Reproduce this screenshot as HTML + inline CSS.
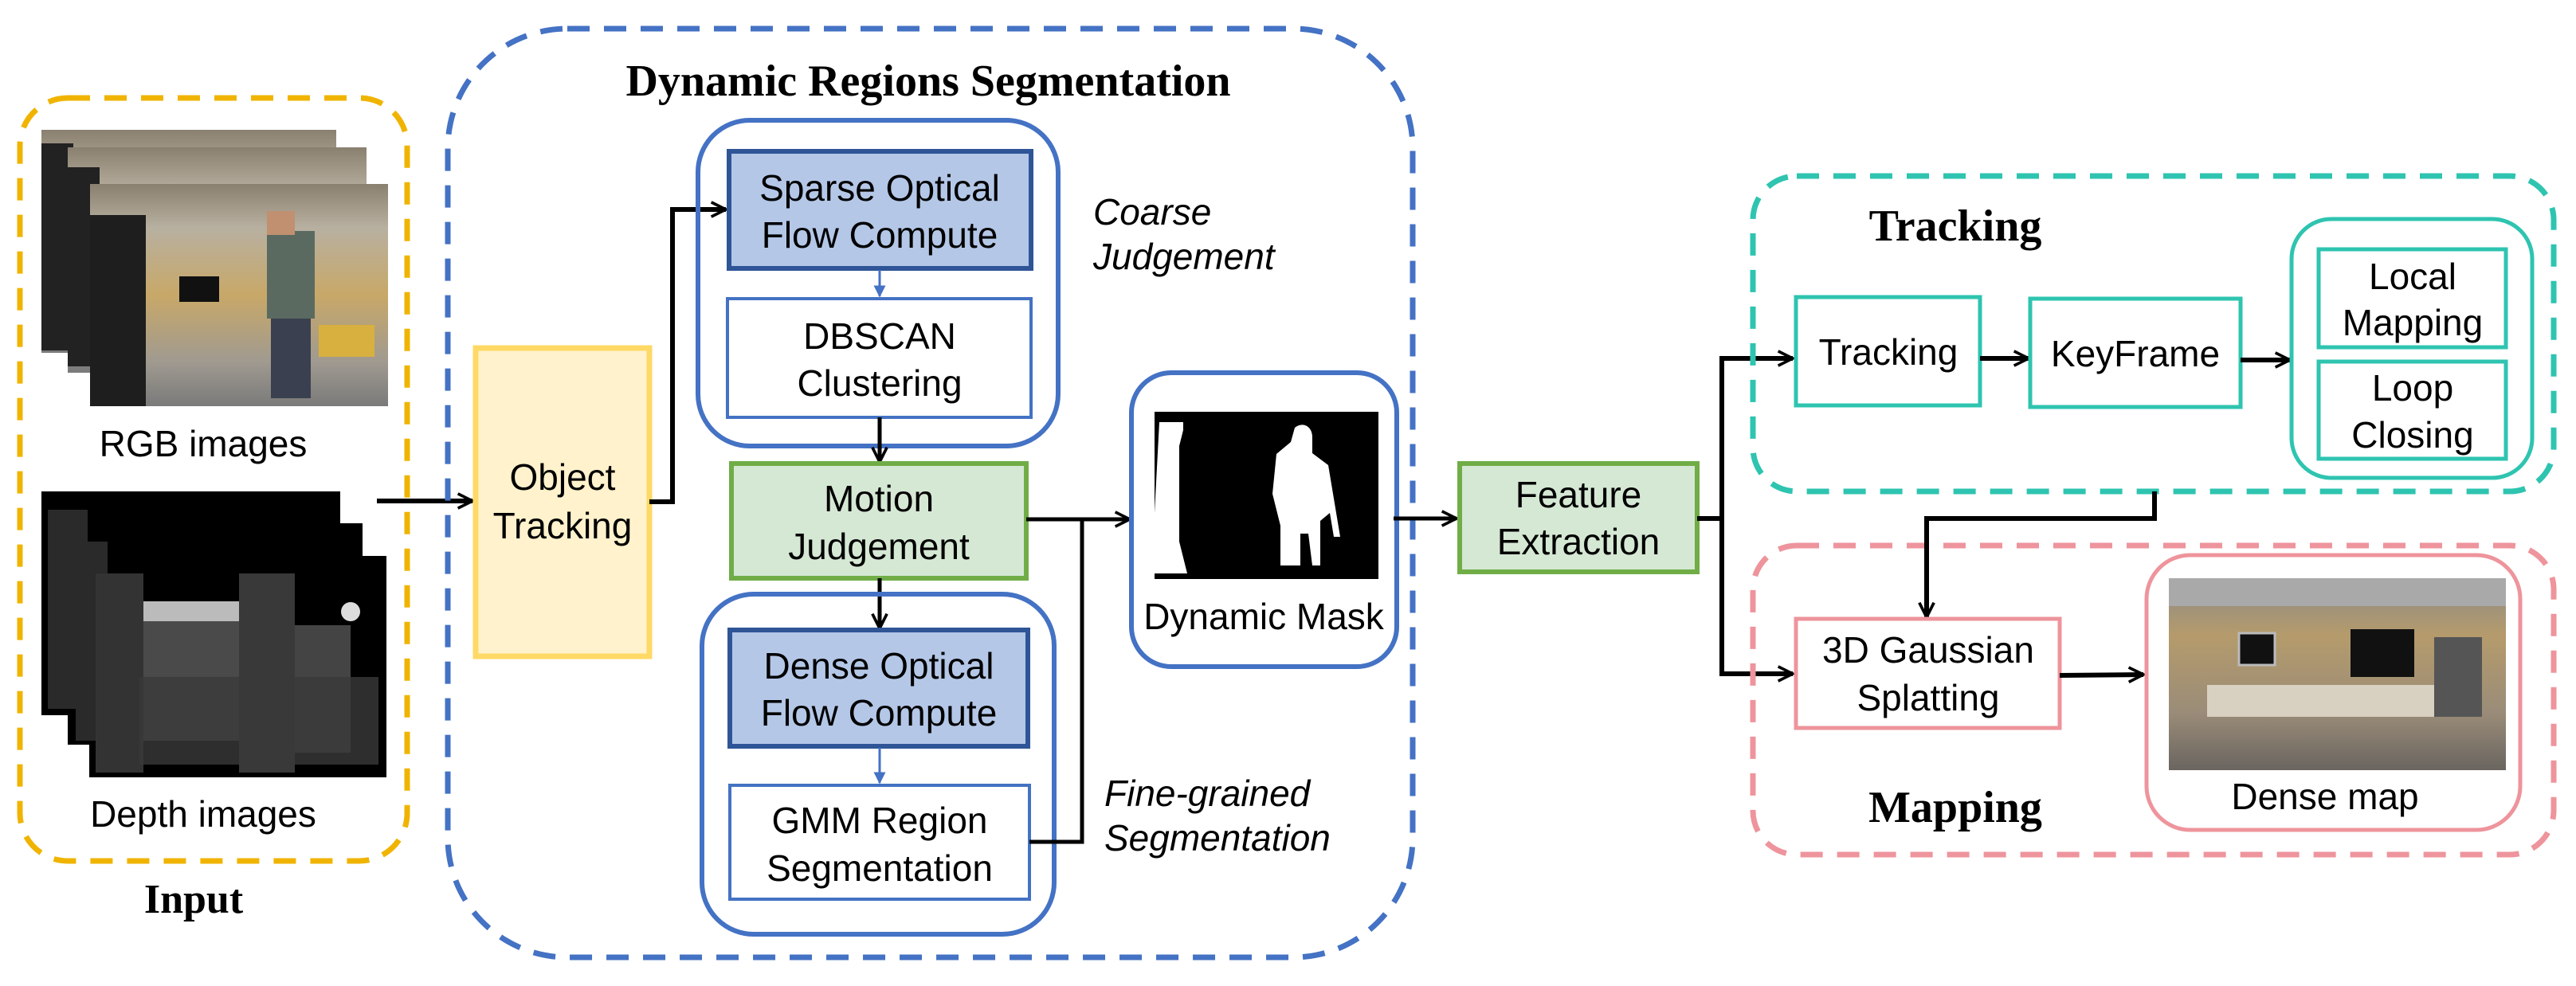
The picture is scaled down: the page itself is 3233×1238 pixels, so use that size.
<!DOCTYPE html>
<html><head><meta charset="utf-8"><style>
html,body{margin:0;padding:0;background:#fff}
svg{display:block}
text{font-family:"Liberation Sans",Arial,sans-serif;font-size:46px;fill:#000}
.t{font-family:"Liberation Serif",serif;font-weight:bold;font-size:56px}
.i{font-style:italic}
</style></head><body>
<svg width="3233" height="1238" viewBox="0 0 3233 1238" xmlns="http://www.w3.org/2000/svg">
<defs>
<marker id="a" viewBox="0 0 12 12" refX="11" refY="6" markerWidth="22" markerHeight="26" markerUnits="userSpaceOnUse" orient="auto"><path d="M1,1 L11,6 L1,11" fill="none" stroke="#000" stroke-width="2"/></marker>
<marker id="ab" viewBox="0 0 10 10" refX="9" refY="5" markerWidth="5" markerHeight="5" orient="auto"><path d="M0,0 L10,5 L0,10z" fill="#4472c4"/></marker>
<linearGradient id="rgb" x1="0" y1="0" x2="0" y2="1"><stop offset="0" stop-color="#8a8070"/><stop offset="0.2" stop-color="#b8b0a0"/><stop offset="0.5" stop-color="#c8a868"/><stop offset="0.8" stop-color="#a09a90"/><stop offset="1" stop-color="#7a7a7a"/></linearGradient>
<linearGradient id="dm" x1="0" y1="0" x2="0" y2="1"><stop offset="0" stop-color="#8c8a86"/><stop offset="0.3" stop-color="#b59b6c"/><stop offset="0.7" stop-color="#9a8c78"/><stop offset="1" stop-color="#6a6560"/></linearGradient>
</defs>

<!-- Input -->
<rect x="25" y="123" width="486" height="958" rx="60" fill="none" stroke="#f0b400" stroke-width="7" stroke-dasharray="28,18"/>
<g>
<rect x="52" y="163" width="370" height="280" fill="url(#rgb)"/>
<rect x="52" y="180" width="40" height="260" fill="#222"/>
<rect x="85" y="185" width="375" height="283" fill="url(#rgb)"/>
<rect x="85" y="210" width="40" height="250" fill="#222"/>
<rect x="113" y="231" width="374" height="279" fill="url(#rgb)"/>
<rect x="113" y="270" width="70" height="240" fill="#1e1e1e"/>
<rect x="335" y="290" width="60" height="110" fill="#5a6a60"/>
<rect x="340" y="400" width="50" height="100" fill="#3a4050"/>
<rect x="335" y="265" width="35" height="30" fill="#c09070"/>
<rect x="225" y="347" width="50" height="32" fill="#111"/>
<rect x="400" y="408" width="70" height="40" fill="#d8b040"/>
</g>
<text x="255" y="573" text-anchor="middle">RGB images</text>
<g>
<rect x="52" y="617" width="375" height="281" fill="#000"/>
<rect x="85" y="657" width="370" height="278" fill="#000"/>
<rect x="112" y="698" width="373" height="278" fill="#000"/>
<rect x="60" y="640" width="50" height="250" fill="#2a2a2a"/>
<rect x="95" y="680" width="40" height="250" fill="#2a2a2a"/>
<rect x="165" y="755" width="160" height="30" fill="#bbb"/>
<rect x="172" y="780" width="150" height="150" fill="#4a4a4a"/>
<rect x="120" y="720" width="60" height="250" fill="#333"/>
<rect x="300" y="720" width="70" height="250" fill="#393939"/>
<rect x="370" y="785" width="70" height="160" fill="#444"/>
<rect x="175" y="850" width="300" height="110" fill="#3a3a3a" opacity="0.8"/>
<circle cx="440" cy="768" r="12" fill="#ddd"/>
</g>
<text x="255" y="1038" text-anchor="middle">Depth images</text>
<text class="t" x="243" y="1146" text-anchor="middle" style="font-size:52px">Input</text>

<line x1="473" y1="629" x2="593" y2="629" stroke="#000" stroke-width="6" marker-end="url(#a)"/>

<!-- DRS -->
<rect x="562" y="36" width="1211" height="1166" rx="150" fill="none" stroke="#4472c4" stroke-width="7" stroke-dasharray="28,18"/>
<text class="t" x="1165" y="120" text-anchor="middle">Dynamic Regions Segmentation</text>

<rect x="597" y="437" width="218" height="387" fill="#fff2cc" stroke="#ffd966" stroke-width="7"/>
<text x="706" y="615" text-anchor="middle">Object</text>
<text x="706" y="676" text-anchor="middle">Tracking</text>
<polyline points="815,630 844,630 844,263 911,263" fill="none" stroke="#000" stroke-width="6" marker-end="url(#a)"/>

<rect x="876" y="151" width="452" height="409" rx="65" fill="none" stroke="#4472c4" stroke-width="6"/>
<rect x="915" y="190" width="379" height="147" fill="#b4c7e7" stroke="#2f5597" stroke-width="6"/>
<text x="1104" y="252" text-anchor="middle">Sparse Optical</text>
<text x="1104" y="311" text-anchor="middle">Flow Compute</text>
<line x1="1104" y1="339" x2="1104" y2="372" stroke="#4472c4" stroke-width="3" marker-end="url(#ab)"/>
<rect x="913" y="375" width="381" height="149" fill="#fff" stroke="#4472c4" stroke-width="4"/>
<text x="1104" y="438" text-anchor="middle">DBSCAN</text>
<text x="1104" y="497" text-anchor="middle">Clustering</text>
<text class="i" x="1372" y="282">Coarse</text>
<text class="i" x="1372" y="338">Judgement</text>
<line x1="1104" y1="524" x2="1104" y2="580" stroke="#000" stroke-width="5" marker-end="url(#a)"/>
<rect x="918" y="582" width="370" height="144" fill="#d5e8d4" stroke="#70ad47" stroke-width="6"/>
<text x="1103" y="642" text-anchor="middle">Motion</text>
<text x="1103" y="702" text-anchor="middle">Judgement</text>
<line x1="1104" y1="726" x2="1104" y2="789" stroke="#000" stroke-width="5" marker-end="url(#a)"/>
<rect x="881" y="746" width="442" height="427" rx="65" fill="none" stroke="#4472c4" stroke-width="6"/>
<rect x="916" y="791" width="374" height="146" fill="#b4c7e7" stroke="#2f5597" stroke-width="6"/>
<text x="1103" y="852" text-anchor="middle">Dense Optical</text>
<text x="1103" y="911" text-anchor="middle">Flow Compute</text>
<line x1="1104" y1="939" x2="1104" y2="983" stroke="#4472c4" stroke-width="3" marker-end="url(#ab)"/>
<rect x="916" y="986" width="376" height="143" fill="#fff" stroke="#4472c4" stroke-width="4"/>
<text x="1104" y="1046" text-anchor="middle">GMM Region</text>
<text x="1104" y="1106" text-anchor="middle">Segmentation</text>
<text class="i" x="1386" y="1012">Fine-grained</text>
<text class="i" x="1386" y="1068">Segmentation</text>
<polyline points="1288,652 1418,652" fill="none" stroke="#000" stroke-width="5" marker-end="url(#a)"/>
<polyline points="1292,1057 1358,1057 1358,652" fill="none" stroke="#000" stroke-width="5"/>

<rect x="1420" y="468" width="333" height="369" rx="50" fill="#fff" stroke="#4472c4" stroke-width="6"/>
<rect x="1449" y="517" width="281" height="210" fill="#000"/>
<path d="M1455,530 h30 v10 l-5,20 v120 l10,40 h-45 z" fill="#fff"/>
<path d="M1625,537 c10,-8 22,-2 22,12 v20 l20,15 l15,90 h-8 l-5,-30 l-12,10 v56 h-10 l-5,-40 h-10 v40 h-25 v-50 l-10,-40 l5,-50 l18,-15 z" fill="#fff"/>
<text x="1586" y="790" text-anchor="middle">Dynamic Mask</text>

<line x1="1749" y1="651" x2="1828" y2="651" stroke="#000" stroke-width="5" marker-end="url(#a)"/>
<rect x="1832" y="582" width="298" height="136" fill="#d5e8d4" stroke="#70ad47" stroke-width="6"/>
<text x="1981" y="637" text-anchor="middle">Feature</text>
<text x="1981" y="696" text-anchor="middle">Extraction</text>
<polyline points="2130,651 2161,651" fill="none" stroke="#000" stroke-width="6"/>
<polyline points="2161,651 2161,450 2250,450" fill="none" stroke="#000" stroke-width="6" marker-end="url(#a)"/>
<polyline points="2161,651 2161,846 2250,846" fill="none" stroke="#000" stroke-width="6" marker-end="url(#a)"/>

<rect x="2200" y="221" width="1005" height="396" rx="55" fill="none" stroke="#2ec4b0" stroke-width="7" stroke-dasharray="28,18"/>
<text class="t" x="2454" y="302" text-anchor="middle">Tracking</text>
<rect x="2254" y="373" width="231" height="136" fill="#fff" stroke="#2ec4b0" stroke-width="5"/>
<text x="2370" y="458" text-anchor="middle">Tracking</text>
<line x1="2485" y1="450" x2="2546" y2="450" stroke="#000" stroke-width="6" marker-end="url(#a)"/>
<rect x="2548" y="375" width="264" height="136" fill="#fff" stroke="#2ec4b0" stroke-width="5"/>
<text x="2680" y="460" text-anchor="middle">KeyFrame</text>
<line x1="2812" y1="452" x2="2874" y2="452" stroke="#000" stroke-width="6" marker-end="url(#a)"/>
<rect x="2876" y="275" width="302" height="325" rx="50" fill="#fff" stroke="#2ec4b0" stroke-width="5"/>
<rect x="2910" y="313" width="235" height="123" fill="#fff" stroke="#2ec4b0" stroke-width="5"/>
<text x="3028" y="363" text-anchor="middle">Local</text>
<text x="3028" y="421" text-anchor="middle">Mapping</text>
<rect x="2910" y="454" width="235" height="122" fill="#fff" stroke="#2ec4b0" stroke-width="5"/>
<text x="3028" y="503" text-anchor="middle">Loop</text>
<text x="3028" y="562" text-anchor="middle">Closing</text>

<rect x="2200" y="685" width="1005" height="388" rx="55" fill="none" stroke="#ee949c" stroke-width="7" stroke-dasharray="28,18"/>
<text class="t" x="2454" y="1032" text-anchor="middle">Mapping</text>
<polyline points="2704,617 2704,651 2418,651 2418,775" fill="none" stroke="#000" stroke-width="6" marker-end="url(#a)"/>
<rect x="2254" y="777" width="331" height="137" fill="#fff" stroke="#ee949c" stroke-width="5"/>
<text x="2420" y="832" text-anchor="middle">3D Gaussian</text>
<text x="2420" y="892" text-anchor="middle">Splatting</text>
<line x1="2585" y1="848" x2="2690" y2="847" stroke="#000" stroke-width="6" marker-end="url(#a)"/>
<rect x="2694" y="697" width="469" height="345" rx="55" fill="#fff" stroke="#ee949c" stroke-width="5"/>
<rect x="2722" y="726" width="423" height="241" fill="url(#dm)"/>
<rect x="2722" y="726" width="423" height="35" fill="#a9a9a9"/>
<rect x="2810" y="795" width="45" height="40" fill="#111" stroke="#bbb" stroke-width="3"/>
<rect x="2950" y="790" width="80" height="60" fill="#111"/>
<rect x="2770" y="860" width="300" height="40" fill="#d8d0c0"/>
<rect x="3055" y="800" width="60" height="100" fill="#555"/>
<text x="2918" y="1016" text-anchor="middle">Dense map</text>
</svg>
</body></html>
